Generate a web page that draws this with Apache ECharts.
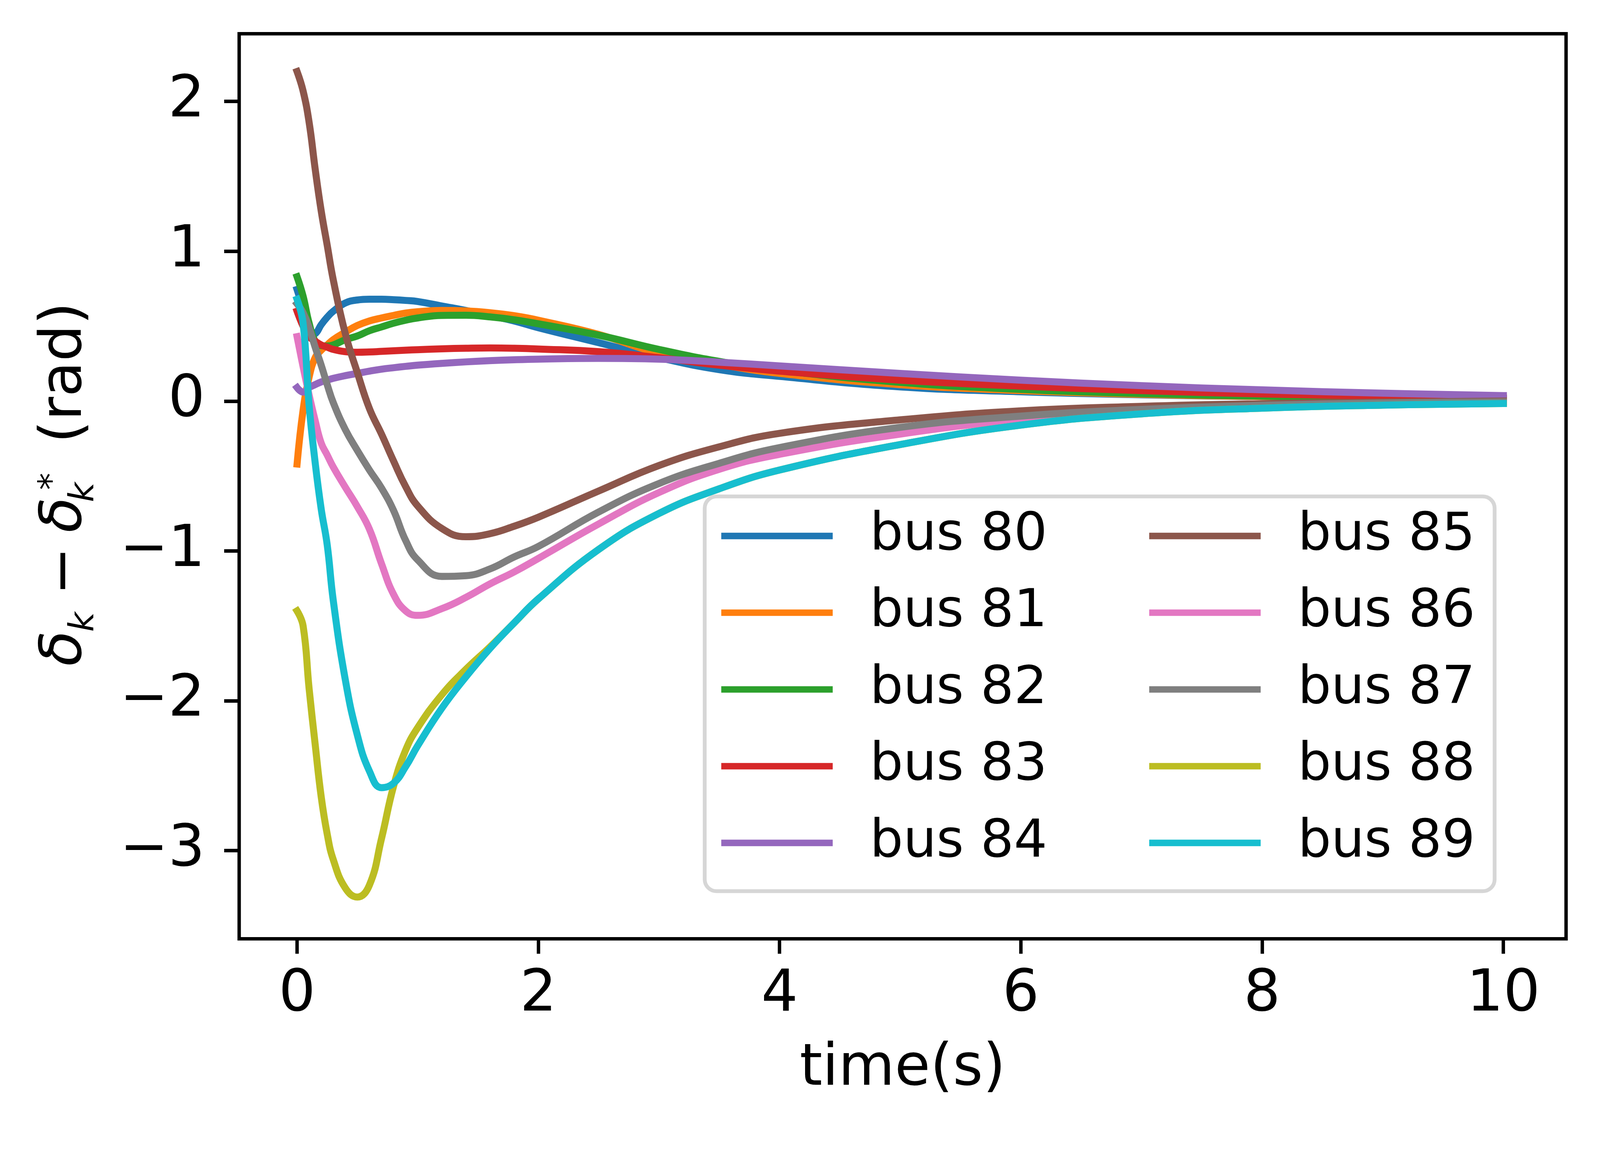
<!DOCTYPE html>
<html>
<head>
<meta charset="utf-8">
<script src="https://cdn.jsdelivr.net/npm/echarts@6/dist/echarts.min.js"></script>
<style>
html, body { margin: 0; padding: 0; background: #fff; overflow: hidden; }
#chart { width: 100vw; height: 100vh; }
</style>
</head>
<body>
<div id="chart"></div>
<script>
var time = [0, 0.05, 0.1, 0.15, 0.2, 0.25, 0.3, 0.4, 0.5, 0.6, 0.7, 0.8, 0.9, 1.0, 1.2, 1.4, 1.6, 1.8, 2.0, 2.5, 3.0, 3.5, 4.0, 5.0, 6.0, 7.0, 8.0, 9.0, 10.0];

var bus80 = [0.745, 0.61, 0.44, 0.45, 0.51, 0.56, 0.60, 0.655, 0.675, 0.68, 0.68, 0.677, 0.672, 0.665, 0.635, 0.605, 0.57, 0.535, 0.49, 0.39, 0.29, 0.21, 0.165, 0.095, 0.062, 0.042, 0.03, 0.022, 0.016];
var bus81 = [-0.42, -0.06, 0.16, 0.29, 0.34, 0.375, 0.41, 0.46, 0.505, 0.535, 0.555, 0.572, 0.588, 0.597, 0.605, 0.602, 0.59, 0.57, 0.54, 0.445, 0.32, 0.245, 0.185, 0.11, 0.07, 0.045, 0.03, 0.02, 0.014];
var bus82 = [0.83, 0.70, 0.52, 0.40, 0.37, 0.368, 0.375, 0.41, 0.435, 0.47, 0.495, 0.52, 0.54, 0.555, 0.572, 0.573, 0.562, 0.543, 0.516, 0.44, 0.345, 0.265, 0.205, 0.125, 0.078, 0.05, 0.033, 0.022, 0.015];
var bus83 = [0.60, 0.50, 0.43, 0.40, 0.375, 0.36, 0.345, 0.33, 0.326, 0.328, 0.332, 0.336, 0.34, 0.343, 0.349, 0.353, 0.355, 0.353, 0.348, 0.33, 0.29, 0.24, 0.2, 0.14, 0.1, 0.07, 0.048, 0.033, 0.022];
var bus84 = [0.09, 0.06, 0.09, 0.11, 0.128, 0.14, 0.152, 0.17, 0.185, 0.2, 0.213, 0.223, 0.232, 0.24, 0.252, 0.262, 0.27, 0.276, 0.28, 0.285, 0.28, 0.26, 0.235, 0.185, 0.14, 0.103, 0.075, 0.053, 0.037];
var bus85 = [2.20, 2.07, 1.86, 1.55, 1.27, 1.04, 0.81, 0.45, 0.19, -0.05, -0.22, -0.40, -0.57, -0.70, -0.85, -0.905, -0.885, -0.835, -0.775, -0.60, -0.43, -0.305, -0.215, -0.125, -0.065, -0.035, -0.017, -0.007, 0.0];
var bus86 = [0.43, 0.23, 0.04, -0.13, -0.28, -0.36, -0.44, -0.575, -0.705, -0.855, -1.085, -1.29, -1.40, -1.43, -1.385, -1.31, -1.22, -1.14, -1.05, -0.82, -0.61, -0.455, -0.355, -0.22, -0.125, -0.072, -0.04, -0.02, -0.008];
var bus87 = [0.65, 0.59, 0.49, 0.36, 0.24, 0.11, -0.01, -0.19, -0.33, -0.46, -0.58, -0.73, -0.93, -1.06, -1.17, -1.165, -1.12, -1.04, -0.97, -0.74, -0.55, -0.415, -0.31, -0.175, -0.10, -0.055, -0.028, -0.012, -0.005];
var bus88 = [-1.40, -1.50, -1.92, -2.29, -2.64, -2.89, -3.06, -3.25, -3.31, -3.23, -2.92, -2.57, -2.33, -2.18, -1.96, -1.79, -1.64, -1.48, -1.32, -0.99, -0.75, -0.585, -0.46, -0.29, -0.16, -0.085, -0.047, -0.027, -0.016];
var bus89 = [0.68, 0.52, -0.03, -0.41, -0.72, -0.96, -1.33, -1.86, -2.23, -2.47, -2.58, -2.55, -2.44, -2.30, -2.05, -1.84, -1.65, -1.48, -1.32, -0.99, -0.75, -0.585, -0.46, -0.29, -0.16, -0.085, -0.047, -0.027, -0.016];

var names = ['bus 80', 'bus 81', 'bus 82', 'bus 83', 'bus 84', 'bus 85', 'bus 86', 'bus 87', 'bus 88', 'bus 89'];
var values = [bus80, bus81, bus82, bus83, bus84, bus85, bus86, bus87, bus88, bus89];
var colors = ['#1f77b4', '#ff7f0e', '#2ca02c', '#d62728', '#9467bd', '#8c564b', '#e377c2', '#7f7f7f', '#bcbd22', '#17becf'];
var xTicks = [0, 2, 4, 6, 8, 10];
var yTicks = [-3, -2, -1, 0, 1, 2];

var FONT = 'DejaVu Sans';
var dom = document.getElementById('chart');
// layout is worked out for a 4206 x 2985 page, scale it to whatever we get
var S = Math.min(dom.clientWidth / 4206, dom.clientHeight / 2985);
function p(v) { return v * S; }

var chart = echarts.init(dom);

var series = names.map(function (n, k) {
    return {
        name: n,
        type: 'line',
        data: time.map(function (t, i) { return [t, values[k][i]]; }),
        showSymbol: false,
        symbol: 'none',
        smooth: 0.45,
        color: colors[k],
        lineStyle: { width: p(18.5), cap: 'square', join: 'round' },
        emphasis: { disabled: true }
    };
});

function legendBlock(items, left) {
    return {
        data: items,
        orient: 'vertical',
        left: p(left),
        top: p(1339),
        padding: 0,
        itemWidth: p(293),
        itemHeight: p(17),
        itemGap: p(61.7),
        icon: 'rect',
        selectedMode: false,
        itemStyle: { borderWidth: 0 },
        textStyle: {
            fontSize: p(138), fontFamily: FONT, color: '#000',
            lineHeight: p(140), padding: [0, 0, 0, p(92.5)]
        },
        z: 20
    };
}

// y axis title, drawn rotated: δ_k − δ_k^* (rad)
function ylab(text, x, y, size, italic) {
    return {
        type: 'text', x: p(x), y: p(y),
        style: {
            text: text, fontSize: p(size), fontFamily: FONT,
            fontStyle: italic ? 'italic' : 'normal',
            fill: '#000', align: 'left', verticalAlign: 'middle'
        }
    };
}

option = {
    animation: false,
    backgroundColor: '#fff',
    grid: {
        left: p(628.7), top: p(88.7), width: p(3488.1), height: p(2379.1),
        show: true, borderColor: '#000', borderWidth: p(9)
    },
    xAxis: {
        type: 'value',
        min: -0.48, max: 10.52,
        axisLine: { show: false, onZero: false },
        axisTick: { show: true, customValues: xTicks, length: p(39.4), lineStyle: { color: '#000', width: p(9) } },
        axisLabel: { customValues: xTicks, fontSize: p(152), fontFamily: FONT, color: '#000', margin: p(73) },
        splitLine: { show: false },
        name: 'time(s)',
        nameLocation: 'middle',
        nameGap: p(268.6),
        nameTextStyle: { fontSize: p(152), fontFamily: FONT, color: '#000' }
    },
    yAxis: {
        type: 'value',
        min: -3.5885, max: 2.452,
        axisLine: { show: false, onZero: false },
        axisTick: { show: true, customValues: yTicks, length: p(39.4), lineStyle: { color: '#000', width: p(9) } },
        axisLabel: {
            customValues: yTicks, fontSize: p(152), fontFamily: FONT, color: '#000', margin: p(90),
            formatter: function (v) { return String(v).replace('-', '\u2212'); }
        },
        splitLine: { show: false }
    },
    legend: [legendBlock(names.slice(0, 5), 1896), legendBlock(names.slice(5), 3021)],
    graphic: [
        {
            type: 'rect', z: 10,
            shape: { x: p(1852.5), y: p(1305), width: p(2076.5), height: p(1037.7), r: p(31) },
            style: { fill: 'rgba(255,255,255,0.8)', stroke: '#d6d6d6', lineWidth: p(10) }
        },
        {
            type: 'group', x: p(226), y: p(1746), rotation: Math.PI / 2,
            children: [
                ylab('\u03b4', -5, -52.6, 152, true),
                ylab('k', 85, -5, 90, true),
                ylab('\u2212', 181, -52.6, 152, false),
                ylab('\u03b4', 346, -52.6, 152, true),
                ylab('k', 426, -5, 90, true),
                ylab('*', 458, -85, 90, false),
                ylab('(rad)', 581, -52.6, 152, false)
            ]
        }
    ],
    series: series
};

chart.setOption(option);
</script>
</body>
</html>
